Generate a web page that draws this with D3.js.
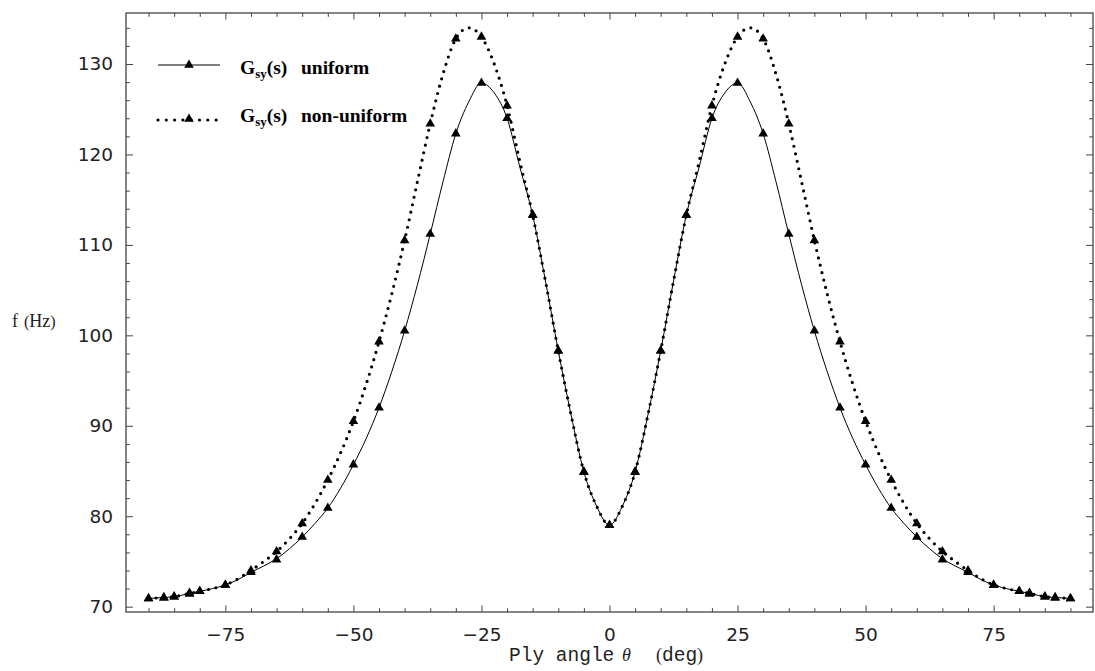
<!DOCTYPE html>
<html>
<head>
<meta charset="utf-8">
<script src="https://cdn.jsdelivr.net/npm/d3@7"></script>
<style>
  body { margin: 0; background: #fff; }
  svg { display: block; }
</style>
</head>
<body>
<svg id="chart" width="1095" height="671"></svg>
<script>
// Ply angle grid (deg) used for the continuous curves
const curveAngles = [
  -90, -87.5, -85, -82.5, -80, -77.5, -75, -72.5, -70, -67.5, -65, -62.5, -60,
  -57.5, -55, -52.5, -50, -47.5, -45, -42.5, -40, -37.5, -35, -32.5, -30,
  -27.5, -25, -22.5, -20, -17.5, -15, -12.5, -10, -7.5, -5, -2.5, 0,
  2.5, 5, 7.5, 10, 12.5, 15, 17.5, 20, 22.5, 25, 27.5, 30, 32.5, 35,
  37.5, 40, 42.5, 45, 47.5, 50, 52.5, 55, 57.5, 60, 62.5, 65, 67.5, 70,
  72.5, 75, 77.5, 80, 82.5, 85, 87.5, 90
];
// Frequency (Hz), uniform G_sy(s)
const curveUniform = [
  70.9, 71.0, 71.1, 71.4, 71.7, 72.0, 72.4, 73.0, 73.8, 74.5, 75.3, 76.4, 77.7,
  79.2, 80.9, 83.1, 85.7, 88.6, 92.0, 96.0, 100.5, 105.6, 111.2, 117.0, 122.3,
  125.8, 127.9, 126.8, 124.0, 118.6, 113.3, 106.0, 98.3, 91.2, 84.9, 81.1, 79.0,
  81.1, 84.9, 91.2, 98.3, 106.0, 113.3, 118.6, 124.0, 126.8, 127.9, 125.8, 122.3, 117.0, 111.2,
  105.6, 100.5, 96.0, 92.0, 88.6, 85.7, 83.1, 80.9, 79.2, 77.7, 76.4, 75.3, 74.5, 73.8,
  73.0, 72.4, 72.0, 71.7, 71.4, 71.1, 71.0, 70.9
];
// Frequency (Hz), non-uniform G_sy(s)
const curveNonUniform = [
  70.9, 71.0, 71.1, 71.4, 71.7, 72.0, 72.4, 73.1, 74.0, 75.0, 76.1, 77.5, 79.2,
  81.4, 84.0, 87.0, 90.5, 94.6, 99.3, 104.6, 110.5, 117.0, 123.4, 128.9, 132.8,
  134.0, 133.0, 130.0, 125.4, 119.2, 113.3, 106.0, 98.3, 91.2, 84.9, 81.1, 79.0,
  81.1, 84.9, 91.2, 98.3, 106.0, 113.3, 119.2, 125.4, 130.0, 133.0, 134.0, 132.8, 128.9, 123.4,
  117.0, 110.5, 104.6, 99.3, 94.6, 90.5, 87.0, 84.0, 81.4, 79.2, 77.5, 76.1, 75.0, 74.0,
  73.1, 72.4, 72.0, 71.7, 71.4, 71.1, 71.0, 70.9
];

// Angles carrying a triangle marker
const markerAngles = [
  -90, -87, -85, -82, -80, -75, -70, -65, -60, -55, -50, -45, -40, -35, -30, -25,
  -20, -15, -10, -5, 0, 5, 10, 15, 20, 25, 30, 35, 40, 45, 50, 55, 60, 65, 70,
  75, 80, 82, 85, 87, 90
];
const markerUniform = [
  70.9, 71.0, 71.1, 71.4, 71.7, 72.4, 73.8, 75.2, 77.7, 80.9, 85.7, 92.0, 100.5, 111.2, 122.3, 127.9,
  124.0, 113.3, 98.3, 84.9, 79.0, 84.9, 98.3, 113.3, 124.0, 127.9, 122.3, 111.2, 100.5, 92.0, 85.7,
  80.9, 77.7, 75.2, 73.8, 72.4, 71.7, 71.4, 71.1, 71.0, 70.9
];
const markerNonUniform = [
  70.9, 71.0, 71.1, 71.5, 71.7, 72.4, 74.0, 76.1, 79.2, 84.0, 90.5, 99.3, 110.5, 123.4, 132.8, 133.0,
  125.4, 113.3, 98.3, 84.9, 79.0, 84.9, 98.3, 113.3, 125.4, 133.0, 132.8, 123.4, 110.5, 99.3, 90.5,
  84.0, 79.2, 76.1, 74.0, 72.4, 71.7, 71.5, 71.1, 71.0, 70.9
];

// Tick values
const xMajorTicks = [-75, -50, -25, 0, 25, 50, 75];
const xMinorTicks = [-90, -85, -80, -70, -65, -60, -55, -45, -40, -35, -30, -20, -15, -10, -5,
                     5, 10, 15, 20, 30, 35, 40, 45, 55, 60, 65, 70, 80, 85, 90];
const yMajorTicks = [70, 80, 90, 100, 110, 120, 130];
const yMinorTicks = [72, 74, 76, 78, 82, 84, 86, 88, 92, 94, 96, 98, 102, 104, 106, 108,
                     112, 114, 116, 118, 122, 124, 126, 128, 132, 134];

const legendLabels = ["uniform", "non-uniform"];

// ---- layout ----
const plot = { left: 126, right: 1093, top: 13, bottom: 612 };
const svg = d3.select("#chart");

const x = d3.scaleLinear().domain([-94.4, 94.4]).range([plot.left, plot.right]);
const y = d3.scaleLinear().domain([69.41, 135.64]).range([plot.bottom, plot.top]);

const axisColor = "#444";
const tickFont = "'DejaVu Sans', sans-serif";

function styleAxis(g) {
  g.select(".domain").remove();
  g.selectAll(".tick line").attr("stroke", axisColor).attr("stroke-width", 1);
  g.selectAll(".tick text")
    .attr("fill", "#222")
    .style("font-family", tickFont)
    .style("font-size", "18.5px");
}

// bottom axis with labels
svg.append("g")
  .attr("transform", `translate(0,${plot.bottom})`)
  .call(d3.axisBottom(x).tickValues(xMajorTicks).tickSize(-6.5).tickSizeOuter(0)
          .tickPadding(16).tickFormat(d => d < 0 ? "\u2212" + Math.abs(d) : d))
  .call(styleAxis);
svg.append("g")
  .attr("transform", `translate(0,${plot.bottom})`)
  .call(d3.axisBottom(x).tickValues(xMinorTicks).tickSize(-3.8).tickSizeOuter(0).tickFormat(""))
  .call(styleAxis);

// top axis (ticks only)
svg.append("g")
  .attr("transform", `translate(0,${plot.top})`)
  .call(d3.axisTop(x).tickValues(xMajorTicks).tickSize(-6.5).tickSizeOuter(0).tickFormat(""))
  .call(styleAxis);
svg.append("g")
  .attr("transform", `translate(0,${plot.top})`)
  .call(d3.axisTop(x).tickValues(xMinorTicks).tickSize(-3.8).tickSizeOuter(0).tickFormat(""))
  .call(styleAxis);

// left axis with labels
svg.append("g")
  .attr("transform", `translate(${plot.left},0)`)
  .call(d3.axisLeft(y).tickValues(yMajorTicks).tickSize(-7).tickSizeOuter(0).tickPadding(13))
  .call(styleAxis);
svg.append("g")
  .attr("transform", `translate(${plot.left},0)`)
  .call(d3.axisLeft(y).tickValues(yMinorTicks).tickSize(-3.8).tickSizeOuter(0).tickFormat(""))
  .call(styleAxis);

// right axis (ticks only)
svg.append("g")
  .attr("transform", `translate(${plot.right},0)`)
  .call(d3.axisRight(y).tickValues(yMajorTicks).tickSize(-7).tickSizeOuter(0).tickFormat(""))
  .call(styleAxis);
svg.append("g")
  .attr("transform", `translate(${plot.right},0)`)
  .call(d3.axisRight(y).tickValues(yMinorTicks).tickSize(-3.8).tickSizeOuter(0).tickFormat(""))
  .call(styleAxis);

// frame
svg.append("rect")
  .attr("x", plot.left).attr("y", plot.top)
  .attr("width", plot.right - plot.left).attr("height", plot.bottom - plot.top)
  .attr("fill", "none").attr("stroke", axisColor).attr("stroke-width", 1.3);

// ---- curves ----
const uniformPts = curveAngles.map((a, i) => [a, curveUniform[i]]);
const nonUniformPts = curveAngles.map((a, i) => [a, curveNonUniform[i]]);

const line = d3.line().x(d => x(d[0])).y(d => y(d[1])).curve(d3.curveMonotoneX);

svg.append("path")
  .datum(uniformPts)
  .attr("d", line)
  .attr("fill", "none")
  .attr("stroke", "#000")
  .attr("stroke-width", 1);

svg.append("path")
  .datum(nonUniformPts)
  .attr("d", line)
  .attr("fill", "none")
  .attr("stroke", "#000")
  .attr("stroke-width", 3.2)
  .attr("stroke-linecap", "round")
  .attr("stroke-dasharray", "0,7.6");

// ---- markers ----
const tri = d3.symbol().type(d3.symbolTriangle).size(40);

function drawMarkers(values) {
  svg.append("g")
    .selectAll("path")
    .data(markerAngles.map((a, i) => [a, values[i]]))
    .join("path")
    .attr("d", tri)
    .attr("transform", d => `translate(${x(d[0])},${y(d[1])})`)
    .attr("fill", "#000");
}
drawMarkers(markerUniform);
drawMarkers(markerNonUniform);

// ---- axis titles ----
const xTitle = svg.append("text")
  .attr("y", 661)
  .attr("fill", "#222");
xTitle.append("tspan").attr("x", 509)
  .style("font-family", "'Liberation Mono', monospace").style("font-size", "19.5px")
  .text("Ply angle");
xTitle.append("tspan").attr("x", 622)
  .style("font-family", "'Liberation Serif', serif").style("font-style", "italic").style("font-size", "18px")
  .text("\u03B8");
xTitle.append("tspan").attr("x", 656)
  .style("font-family", "'Liberation Serif', serif").style("font-size", "18px")
  .text("(");
xTitle.append("tspan")
  .style("font-family", "'Liberation Mono', monospace").style("font-size", "19.5px")
  .text("deg");
xTitle.append("tspan")
  .style("font-family", "'Liberation Serif', serif").style("font-size", "18px")
  .text(")");

const yTitle = svg.append("text")
  .attr("x", 12).attr("y", 327)
  .attr("fill", "#222")
  .style("font-family", "'Liberation Serif', serif")
  .style("font-size", "18px");
yTitle.append("tspan").text("f");
yTitle.append("tspan").attr("dx", 6).style("font-size", "16px").text("(");
yTitle.append("tspan").text("Hz");
yTitle.append("tspan").style("font-size", "16px").text(")");

// ---- legend ----
const legendRows = [
  { lineY: 65, textY: 74, dotted: false, label: legendLabels[0] },
  { lineY: 120, textY: 122, dotted: true, label: legendLabels[1] }
];
const legendX0 = 158, legendX1 = 220, legendMarkX = 189;

legendRows.forEach(r => {
  const seg = svg.append("line")
    .attr("x1", legendX0).attr("x2", r.dotted ? 217 : legendX1)
    .attr("y1", r.lineY).attr("y2", r.lineY)
    .attr("stroke", "#000");
  if (r.dotted) {
    seg.attr("stroke-width", 3.2).attr("stroke-linecap", "round").attr("stroke-dasharray", "0,8.3");
  } else {
    seg.attr("stroke-width", 1);
  }
  svg.append("path")
    .attr("d", tri)
    .attr("transform", `translate(${legendMarkX},${r.dotted ? r.lineY - 1 : r.lineY})`)
    .attr("fill", "#000");

  const t = svg.append("text")
    .attr("x", 240).attr("y", r.textY)
    .attr("fill", "#000")
    .style("font-family", "'Liberation Serif', serif")
    .style("font-weight", "bold")
    .style("font-size", "19.5px");
  t.append("tspan").text("G");
  t.append("tspan").attr("dy", 4).style("font-size", "13px").text("sy");
  t.append("tspan").attr("dy", -4).text("(s)");

  svg.append("text")
    .attr("x", 301).attr("y", r.textY)
    .attr("fill", "#000")
    .style("font-family", "'Liberation Serif', serif")
    .style("font-weight", "bold")
    .style("font-size", "19.5px")
    .text(r.label);
});
</script>
</body>
</html>
